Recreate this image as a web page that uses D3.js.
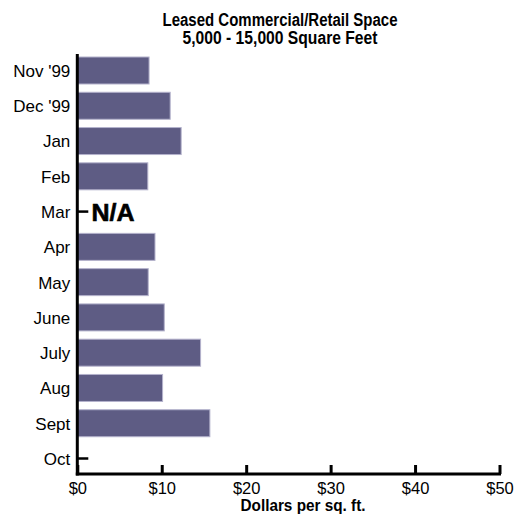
<!DOCTYPE html>
<html>
<head>
<meta charset="utf-8">
<script src="https://cdn.jsdelivr.net/npm/d3@7/dist/d3.min.js"></script>
<style>
  html, body { margin: 0; padding: 0; background: #fff; }
  svg { display: block; }
</style>
</head>
<body>
<svg id="chart" width="515" height="516"></svg>
<script>
const categories = ["Nov '99", "Dec '99", "Jan", "Feb", "Mar", "Apr", "May", "June", "July", "Aug", "Sept", "Oct"];
const values = [8.5, 11.0, 12.3, 8.35, null, 9.2, 8.4, 10.3, 14.6, 10.1, 15.7, null];
const naLabel = "N/A";
const xTicks = [0, 10, 20, 30, 40, 50];
const titleLines = ["Leased Commercial/Retail Space", "5,000 - 15,000 Square Feet"];
const xTitle = "Dollars per sq. ft.";

const svg = d3.select("#chart");
const regular = "'Liberation Sans', Arial, Helvetica, sans-serif";

const x = d3.scaleLinear().domain([0, 50]).range([77.3, 499.5]);
const y = d3.scalePoint().domain(categories).range([70.5, 458.5]);
const barH = 27;
const axisY = 474;
const axisTop = 54;

// title (condensed via textLength)
const titleWidths = [235, 195];
svg.append("g").selectAll("text").data(titleLines).join("text")
  .attr("x", 280).attr("y", (d, i) => 25.5 + i * 18.5)
  .attr("text-anchor", "middle")
  .attr("textLength", (d, i) => titleWidths[i]).attr("lengthAdjust", "spacingAndGlyphs")
  .style("font-family", regular).style("font-weight", "bold").style("font-size", "17.5px")
  .text(d => d);

// bars
const data = categories.map((c, i) => ({ c, v: values[i] }));
svg.append("g").selectAll("rect").data(data.filter(d => d.v != null)).join("rect")
  .attr("x", x(0)).attr("y", d => y(d.c) - barH / 2)
  .attr("width", d => x(d.v) - x(0)).attr("height", barH)
  .attr("fill", "#5e5c84").attr("stroke", "#b4b2cc").attr("stroke-width", 1);

// y axis
const yAxis = d3.axisLeft(y).tickSize(0).tickPadding(7);
const gy = svg.append("g").attr("transform", `translate(${x(0)},0)`).call(yAxis);
gy.select(".domain").remove();
gy.selectAll("text").style("font-family", regular).style("font-size", "17px").attr("fill", "#000").attr("dy", "0.35em");
svg.append("line").attr("x1", x(0)).attr("x2", x(0)).attr("y1", axisTop).attr("y2", axisY + 1.5)
  .attr("stroke", "#000").attr("stroke-width", 3);
// ticks for missing categories (visible)
svg.append("g").selectAll("line").data(data.filter(d => d.v == null)).join("line")
  .attr("x1", x(0)).attr("x2", x(0) + 11).attr("y1", d => y(d.c)).attr("y2", d => y(d.c))
  .attr("stroke", "#000").attr("stroke-width", 2.5);
// N/A label
svg.append("text")
  .attr("x", 91.5).attr("y", y("Mar") + 9)
  .attr("textLength", 43).attr("lengthAdjust", "spacingAndGlyphs")
  .style("font-family", regular).style("font-weight", "900").style("font-size", "24px")
  .style("stroke", "#000").style("stroke-width", 0.6)
  .text(naLabel);

// x axis
const xAxis = d3.axisTop(x).tickValues(xTicks).tickSize(9).tickFormat(d => "$" + d);
const gx = svg.append("g").attr("transform", `translate(0,${axisY})`).call(xAxis);
gx.select(".domain").remove();
gx.selectAll(".tick line").attr("stroke", "#000").attr("stroke-width", 3);
gx.selectAll(".tick text").attr("y", 20).attr("dy", 0)
  .style("font-family", regular).style("font-size", "16.5px").attr("fill", "#000");
svg.append("line").attr("x1", x(0) - 1.5).attr("x2", x(50) + 1.5).attr("y1", axisY).attr("y2", axisY)
  .attr("stroke", "#000").attr("stroke-width", 3);

svg.append("text").attr("x", 303).attr("y", 511).attr("text-anchor", "middle")
  .attr("textLength", 125).attr("lengthAdjust", "spacingAndGlyphs")
  .style("font-family", regular).style("font-weight", "bold").style("font-size", "16px")
  .text(xTitle);
</script>
</body>
</html>
